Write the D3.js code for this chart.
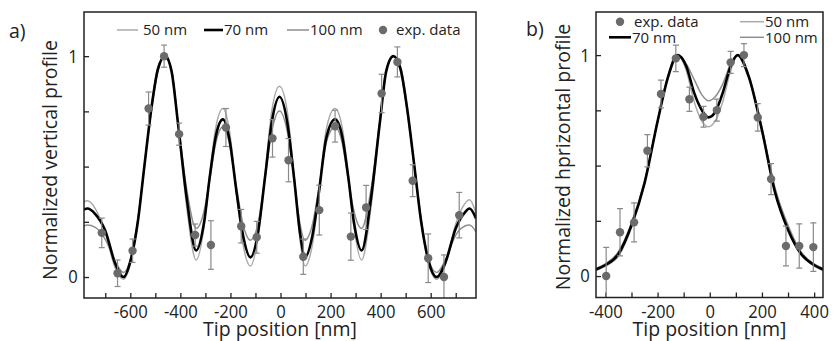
<!DOCTYPE html>
<html><head><meta charset="utf-8">
<script src="https://cdn.jsdelivr.net/npm/d3@7/dist/d3.min.js"></script>
<style>
body{margin:0;background:#fff;}
text{font-family:"Open Sans",sans-serif;fill:#222;}
</style></head>
<body><svg id="c" width="833" height="341"></svg>
<script>
// ---------- Panel a) vertical profile ----------
const aCurveX = [-785,-772,-740,-700,-660,-627,-600,-570,-544,-515,-490,-461,-435,-410,-375,-337,-305,-283,-258,-230,-205,-175,-150,-120,-90,-62,-35,-4,27,54,78,98,128,153,183,218,246,271,293,324,362,397,422,451,480,505,535,562,592,624,660,700,735,755,781];
const a70 = [0.305,0.31,0.285,0.21,0.06,0.0,0.07,0.25,0.50,0.77,0.94,1.0,0.93,0.70,0.36,0.12,0.25,0.45,0.64,0.714,0.63,0.38,0.19,0.089,0.2,0.45,0.70,0.816,0.70,0.45,0.20,0.09,0.19,0.38,0.63,0.714,0.64,0.45,0.25,0.12,0.36,0.70,0.93,1.0,0.94,0.77,0.50,0.25,0.07,0.0,0.07,0.22,0.29,0.31,0.265];
const a50 = [0.34,0.345,0.31,0.20,0.04,-0.01,0.06,0.25,0.50,0.78,0.95,1.0,0.94,0.70,0.32,0.077,0.23,0.46,0.68,0.763,0.67,0.37,0.15,0.05,0.18,0.46,0.75,0.864,0.75,0.46,0.17,0.05,0.15,0.37,0.67,0.763,0.68,0.46,0.23,0.077,0.32,0.70,0.94,1.0,0.95,0.78,0.50,0.25,0.06,-0.01,0.06,0.24,0.33,0.35,0.29];
const a100 = [0.23,0.235,0.225,0.17,0.07,0.02,0.08,0.26,0.50,0.76,0.93,1.0,0.93,0.71,0.40,0.22,0.30,0.44,0.61,0.68,0.61,0.40,0.24,0.167,0.24,0.45,0.66,0.752,0.66,0.45,0.24,0.167,0.24,0.40,0.61,0.68,0.61,0.44,0.30,0.22,0.40,0.71,0.93,1.0,0.93,0.76,0.50,0.26,0.08,0.02,0.08,0.19,0.23,0.235,0.205];
const aExpX = [-714,-651,-591,-527,-465,-405,-341,-278,-218,-157,-95,-32,32,91,155,218,281,342,404,467,528,590,653,714];
const aExpY = [0.20,0.017,0.119,0.763,1.0,0.647,0.19,0.145,0.677,0.23,0.18,0.628,0.529,0.092,0.303,0.683,0.183,0.315,0.831,0.974,0.436,0.085,0.0,0.28];
const aExpErr = [0.067,0.06,0.053,0.075,0.05,0.05,0.05,0.11,0.086,0.076,0.072,0.085,0.098,0.08,0.113,0.072,0.107,0.10,0.087,0.068,0.072,0.11,0.1,0.103];
const aXTicks = [-700,-600,-500,-400,-300,-200,-100,0,100,200,300,400,500,600,700];
const aXLabels = [-600,-400,-200,0,200,400,600];

// ---------- Panel b) horizontal profile ----------
const bCurveX = [-436,-400,-350,-300,-250,-200,-160,-124,-90,-60,-30,-5,20,50,80,107,150,200,250,300,350,400,434];
const b70 = [0.03,0.05,0.10,0.23,0.42,0.70,0.90,1.0,0.95,0.83,0.75,0.718,0.74,0.83,0.95,1.0,0.90,0.66,0.38,0.21,0.10,0.05,0.03];
const b50 = [0.025,0.045,0.09,0.22,0.42,0.70,0.91,1.0,0.93,0.79,0.70,0.676,0.70,0.79,0.93,1.0,0.91,0.67,0.39,0.21,0.10,0.045,0.025];
const b100 = [0.035,0.055,0.11,0.24,0.43,0.70,0.90,1.0,0.96,0.89,0.82,0.793,0.81,0.87,0.96,1.0,0.90,0.67,0.40,0.23,0.11,0.055,0.035];
const bExpX = [-397,-344,-290,-239,-187,-130,-78,-24,27,80,131,184,235,292,343,397];
const bExpY = [0.0,0.198,0.243,0.567,0.824,0.985,0.80,0.721,0.751,0.967,1.0,0.718,0.439,0.136,0.136,0.131];
const bExpErr = [0.13,0.107,0.088,0.073,0.063,0.06,0.055,0.047,0.05,0.05,0.052,0.062,0.07,0.09,0.1,0.11];
const bXTicks = [-400,-300,-200,-100,0,100,200,300,400];
const bXLabels = [-400,-200,0,200,400];

const yTicks = [0,0.25,0.5,0.75,1];
const yLabels = [0,1];

const svg = d3.select("#c");

function panel(o){
  const x = d3.scaleLinear().domain(o.xd).range(o.xr);
  const y = d3.scaleLinear().domain(o.yd).range(o.yr);
  const g = svg.append("g");
  const cid = "clip"+o.id;
  svg.append("clipPath").attr("id",cid).append("rect")
    .attr("x",o.xr[0]).attr("y",o.yr[1]).attr("width",o.xr[1]-o.xr[0]).attr("height",o.yr[0]-o.yr[1]);
  // tick marks (inward, unlabeled)
  const gxm = g.append("g").attr("transform",`translate(0,${o.yr[0]})`)
    .call(d3.axisBottom(x).tickValues(o.xticks).tickSize(-5).tickFormat(""));
  const gym = g.append("g").attr("transform",`translate(${o.xr[0]},0)`)
    .call(d3.axisLeft(y).tickValues(yTicks).tickSize(-5).tickFormat(""));
  // labels only
  const gxl = g.append("g").attr("transform",`translate(0,${o.yr[0]})`)
    .call(d3.axisBottom(x).tickValues(o.xlabels).tickSize(0).tickPadding(7).tickFormat(v=>String(v)));
  const gyl = g.append("g").attr("transform",`translate(${o.xr[0]},0)`)
    .call(d3.axisLeft(y).tickValues(yLabels).tickSize(0).tickPadding(7).tickFormat(v=>String(v)));
  [gxm,gym,gxl,gyl].forEach(a=>{
    a.select(".domain").remove();
    a.selectAll(".tick line").attr("stroke","#222").attr("stroke-width",1.3);
    a.selectAll(".tick text").style("font-size","18.5px").style("font-family","'Open Sans',sans-serif").attr("fill","#222")
      .attr("transform","scale(0.9,1)");
  });
  [gxm,gym].forEach(a=>a.selectAll(".tick text").remove());
  [gxl,gyl].forEach(a=>a.selectAll(".tick line").remove());
  // curves
  const cg = g.append("g").attr("clip-path",`url(#${cid})`);
  const line = d3.line().x(d=>x(d[0])).y(d=>y(d[1])).curve(d3.curveMonotoneX);
  const mk = ys => o.cx.map((v,i)=>[v,ys[i]]);
  cg.append("path").attr("d",line(mk(o.c50))).attr("fill","none").attr("stroke","#aaaaaa").attr("stroke-width",1.5);
  cg.append("path").attr("d",line(mk(o.c100))).attr("fill","none").attr("stroke","#8e8e8e").attr("stroke-width",1.5);
  cg.append("path").attr("d",line(mk(o.c70))).attr("fill","none").attr("stroke","#000").attr("stroke-width",2.6);
  // error bars + points
  const eg = cg.append("g");
  o.ex.forEach((xv,i)=>{
    const cx = x(xv), y1 = y(o.ey[i]+o.ee[i]), y2 = y(o.ey[i]-o.ee[i]);
    eg.append("line").attr("x1",cx).attr("x2",cx).attr("y1",y1).attr("y2",y2).attr("stroke","#8a8a8a").attr("stroke-width",1.2);
    eg.append("line").attr("x1",cx-3).attr("x2",cx+3).attr("y1",y1).attr("y2",y1).attr("stroke","#8a8a8a").attr("stroke-width",1.2);
    eg.append("line").attr("x1",cx-3).attr("x2",cx+3).attr("y1",y2).attr("y2",y2).attr("stroke","#8a8a8a").attr("stroke-width",1.2);
  });
  eg.selectAll("circle").data(o.ex).join("circle")
    .attr("cx",d=>x(d)).attr("cy",(d,i)=>y(o.ey[i])).attr("r",4.2).attr("fill","#6b6b6b");
  // frame
  g.append("rect").attr("x",o.xr[0]).attr("y",o.yr[1]).attr("width",o.xr[1]-o.xr[0]).attr("height",o.yr[0]-o.yr[1])
    .attr("fill","none").attr("stroke","#222").attr("stroke-width",1.5);
  // titles
  g.append("text").attr("x",(o.xr[0]+o.xr[1])/2).attr("y",336).attr("text-anchor","middle").style("font-size","19.5px").text("Tip position [nm]");
  g.append("text").attr("transform",`translate(${o.ytx},${o.yty}) rotate(-90)`).attr("text-anchor","middle").style("font-size","19.5px").text(o.ytitle);
  g.append("text").attr("x",o.lab[0]).attr("y",o.lab[1]).style("font-size","19.5px").text(o.label);
  // legend
  const lg = g.append("g").style("font-size","15px");
  o.leg.forEach(L=>{
    if(L.type==="dot"){
      lg.append("circle").attr("cx",L.x).attr("cy",L.y).attr("r",4.2).attr("fill","#6b6b6b");
    } else {
      lg.append("line").attr("x1",L.x).attr("x2",L.x2).attr("y1",L.y).attr("y2",L.y).attr("stroke",L.c).attr("stroke-width",L.w);
    }
    lg.append("text").attr("x",L.tx).attr("y",L.y+5.2).text(L.t);
  });
}

panel({id:"a", xd:[-785,781], xr:[84,476], yd:[-0.095,1.2], yr:[298,12], xticks:aXTicks, xlabels:aXLabels,
  cx:aCurveX, c70:a70, c50:a50, c100:a100, ex:aExpX, ey:aExpY, ee:aExpErr,
  ytitle:"Normalized vertical profile", ytx:57, yty:160, label:"a)", lab:[9,38],
  leg:[{x:117,x2:138,y:30,c:"#aaaaaa",w:1.5,tx:143,t:"50 nm"},
       {x:204,x2:223,y:30,c:"#000",w:2.6,tx:224,t:"70 nm"},
       {x:287,x2:309,y:30,c:"#8e8e8e",w:1.5,tx:310,t:"100 nm"},
       {type:"dot",x:383,y:30,tx:396,t:"exp. data"}]});

panel({id:"b", xd:[-436,434], xr:[596,823], yd:[-0.097,1.195], yr:[297.5,12], xticks:bXTicks, xlabels:bXLabels,
  cx:bCurveX, c70:b70, c50:b50, c100:b100, ex:bExpX, ey:bExpY, ee:bExpErr,
  ytitle:"Normalized hprizontal profile", ytx:570, yty:157, label:"b)", lab:[526,36],
  leg:[{type:"dot",x:620,y:21.7,tx:634,t:"exp. data"},
       {x:609,x2:631,y:37.3,c:"#000",w:2.6,tx:632,t:"70 nm"},
       {x:740,x2:764,y:21.7,c:"#aaaaaa",w:1.5,tx:765,t:"50 nm"},
       {x:740,x2:764,y:37.3,c:"#8e8e8e",w:1.5,tx:765,t:"100 nm"}]});
</script></body></html>
